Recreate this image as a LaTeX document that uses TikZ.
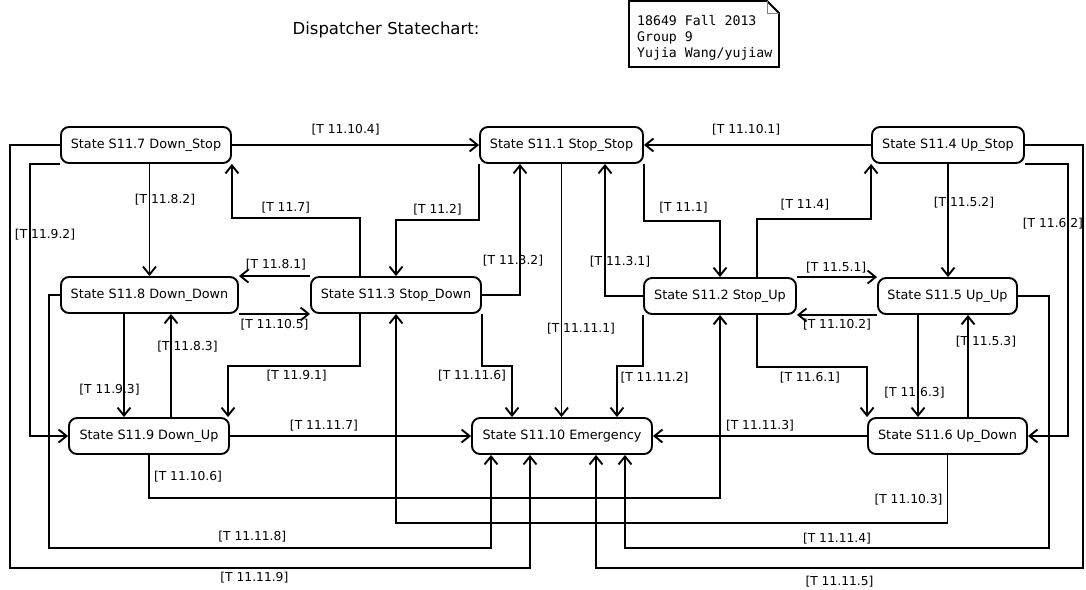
\documentclass[tikz,border=0pt]{standalone}
\usepackage{fontspec}
\setmainfont{DejaVu Sans}
\setmonofont{DejaVu Sans Mono}
\usetikzlibrary{arrows.meta}

\tikzset{
    statebox/.style={draw, line width=1.9pt, rounded corners=8pt, minimum height=36pt, inner sep=2pt, font=\fontsize{12.8pt}{15pt}\selectfont},
    translabel/.style={inner sep=0pt, font=\fontsize{12.3pt}{14pt}\selectfont},
}

\begin{document}
\begin{tikzpicture}[x=1pt, y=-1pt, >={Straight Barb[length=8pt,width=13pt]}]
        \useasboundingbox (0,0) rectangle (1086,589);
        \fill [white] (0,0) rectangle (1086,589);

        \node [font=\fontsize{16.5pt}{18pt}\selectfont] (title) at (386,30) {Dispatcher Statechart:};
        \node [font=\ttfamily\fontsize{13.2pt}{16pt}\selectfont, align=left, anchor=west, inner sep=0pt] (note) at (637,38) {18649 Fall 2013\\Group 9\\Yujia Wang/yujiaw};
        \draw [line width=1.8pt] (629,1) -- (767,1) -- (779,13) -- (779,67) -- (629,67) -- cycle;
        \draw [gray, line width=1pt] (767,1) -- (767,13) -- (779,13);

        \begin{scope}[every node/.append style={statebox}]
            \node [minimum width=170pt] (S117) at (146,145) {State S11.7 Down\_Stop};
            \node [minimum width=163pt] (S111) at (561.5,145) {State S11.1 Stop\_Stop};
            \node [minimum width=152pt] (S114) at (948,145) {State S11.4 Up\_Stop};

            \node [minimum width=177pt] (S118) at (149.5,295) {State S11.8 Down\_Down};
            \node [minimum width=170pt] (S113) at (396,295) {State S11.3 Stop\_Down};
            \node [minimum width=152pt] (S112) at (720,296) {State S11.2 Stop\_Up};
            \node [minimum width=139pt] (S115) at (947.5,296) {State S11.5 Up\_Up};

            \node [minimum width=160pt] (S119) at (149,436) {State S11.9 Down\_Up};
            \node [minimum width=180pt] (S1110) at (562,436) {State S11.10 Emergency};
            \node [minimum width=159pt] (S116) at (947.5,436) {State S11.6 Up\_Down};
        \end{scope}

        \begin{scope}[->, line width=1.9pt, every node/.append style={translabel}]
            \draw (S117) -- (S111) node [pos=.46, yshift=15pt] {[T 11.10.4]};
            \draw (S114) -- (S111) node [pos=.55, yshift=15pt] {[T 11.10.1]};
            \draw (S117.south west) -- ++(-30,0) |- (S119.west) node [pos=.13, xshift=15pt] {[T 11.9.2]};
            \draw (S117.west) -| (10,568) -| ([xshift=-32pt]S1110.south) node [pos=.235, yshift=-10pt] {[T 11.11.9]};
            \draw (S118.west) -| (49,548) -| ([xshift=-71pt]S1110.south) node [pos=.23, yshift=11pt] {[T 11.11.8]};
            \draw (S119.south) -- ++(0,43) node [pos=.5, xshift=39pt] {[T 11.10.6]} -| (S112.south);
            \draw (S116.south) -- ++(0,68) node [pos=.66, xshift=-39pt] {[T 11.10.3]} -| (S113.south);
            \draw (S115.east) -| (1049,548) -| ([xshift=63pt]S1110.south) node [pos=.25, yshift=9pt] {[T 11.11.4]};
            \draw (S114.east) -| (1083,568) -| ([xshift=34pt]S1110.south) node [pos=.25, yshift=-14pt] {[T 11.11.5]};
            \draw (S114.south east) -- ++(43,0) |- (S116.east) node [pos=.11, xshift=-15pt] {[T 11.6.2]};

            \draw (S117.south -| S118.north) -- (S118.north) node [pos=.32, xshift=15.5pt] {[T 11.8.2]};
            \draw ([xshift=-36pt]S113.north) -- ++(0,-58) -| (S117.south east) node [pos=.29, yshift=10pt] {[T 11.7]};
            \draw (S113.north west) -- (S118.north east) node [pos=.48, yshift=11pt] {[T 11.8.1]};
            \draw (S118.south east) -- (S113.south west) node [pos=.5, yshift=-11pt] {[T 11.10.5]};
            \draw ([xshift=22pt]S119.north) -- ([xshift=21.5pt]S118.south) node [pos=.68, xshift=16.5pt] {[T 11.8.3]};
            \draw ([xshift=-25.5pt]S118.south) -- ([xshift=-25pt]S119.north) node [pos=.73, xshift=-14.5pt] {[T 11.9.3]};
            \draw ([xshift=-36pt]S113.south) -- ++(0,52) -| ([xshift=79pt]S119.north) node [pos=.24, yshift=-10pt] {[T 11.9.1]};
            \draw (S119) -- (S1110) node [pos=.39, yshift=10pt] {[T 11.11.7]};

            \draw (S111.south west) -- ++(0,56) -| (S113.north) node [pos=.25, yshift=10pt] {[T 11.2]};
            \draw (S113.east) -| ([xshift=-41.5pt]S111.south) node [pos=.63, xshift=-7pt] {[T 11.3.2]};
            \draw (S111.south) -- (S111.south |- S1110.north) node [pos=.65, xshift=19.5pt] {[T 11.11.1]};
            \draw (S112.west) -| ([xshift=43.5pt]S111.south) node [pos=.63, xshift=15pt] {[T 11.3.1]};
            \draw (S111.south east) -- ++(0,57) -| (S112.north) node [pos=.26, yshift=13pt] {[T 11.1]};
            \draw (S113.south east) -- ++(0,52) -| ([xshift=-50pt]S1110.north) node [pos=.59, xshift=-40pt] {[T 11.11.6]};
            \draw (S112.south west) -- ++(0,51) -| ([xshift=55pt]S1110.north) node [pos=.61, xshift=37.5pt] {[T 11.11.2]};

            \draw ([xshift=37pt]S112.north) -- ++(0,-58) -| (S114.south west) node [pos=.21, yshift=14pt] {[T 11.4]};
            \draw (S114.south) -- (S114.south |- S115.north) node [pos=.34, xshift=16pt] {[T 11.5.2]};
            \draw (S112.north east) -- (S115.north west) node [pos=.49, yshift=9pt] {[T 11.5.1]};
            \draw (S115.south west) -- (S112.south east) node [pos=.5, yshift=-10pt] {[T 11.10.2]};
            \draw ([xshift=37pt]S112.south) -- ++(0,52) -| (S116.north west) node [pos=.24, yshift=-11pt] {[T 11.6.1]};
            \draw ([xshift=-29.5pt]S115.south) -- ([xshift=-29.5pt]S116.north) node [pos=.76, xshift=-3.5pt] {[T 11.6.3]};
            \draw ([xshift=20.5pt]S116.north) -- ([xshift=20.5pt]S115.south) node [pos=.74, xshift=18pt] {[T 11.5.3]};
            \draw (S116) -- (S1110) node [pos=.5, yshift=10pt] {[T 11.11.3]};
        \end{scope}
\end{tikzpicture}
\end{document}
